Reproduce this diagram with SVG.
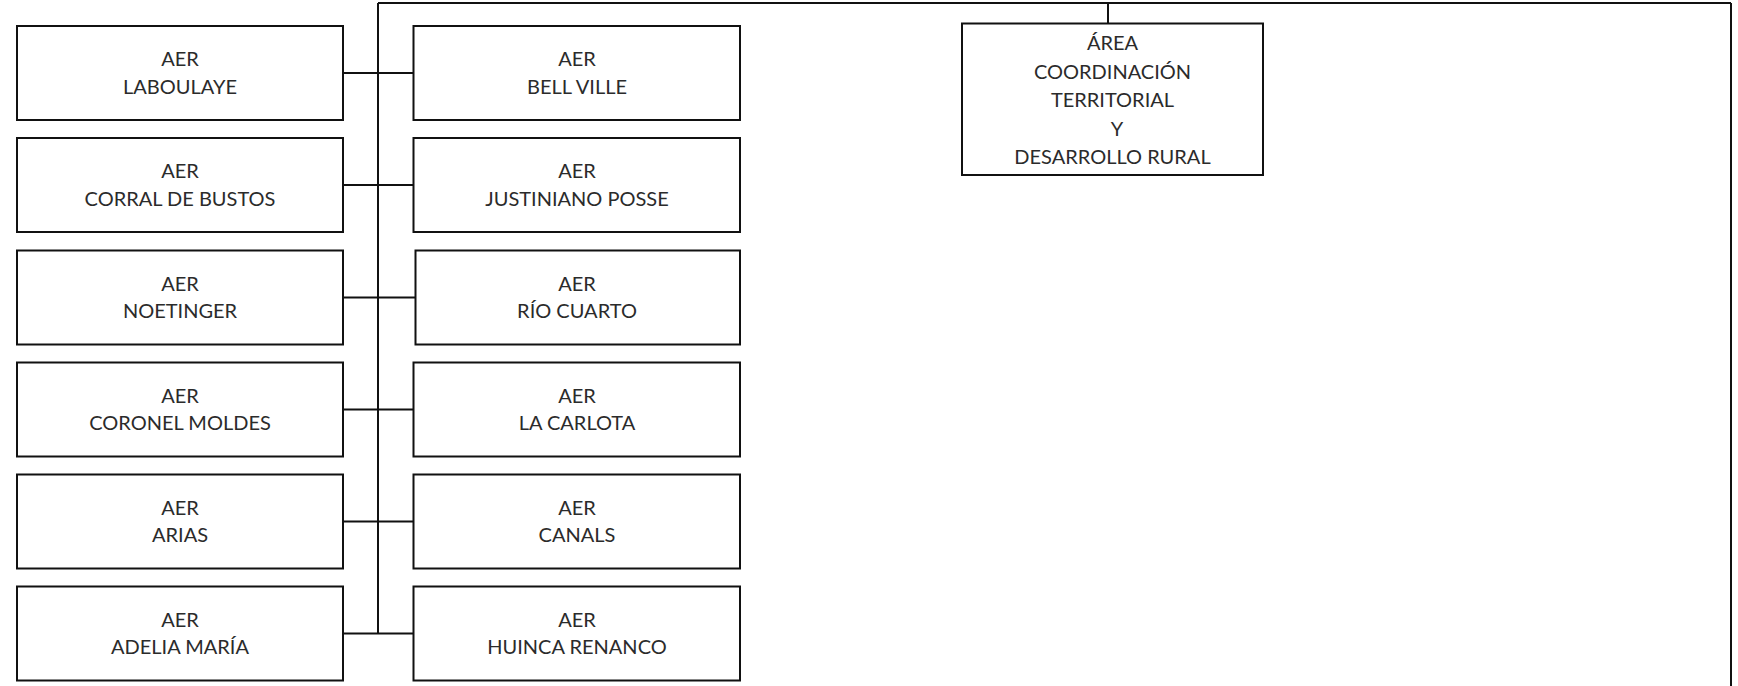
<svg xmlns="http://www.w3.org/2000/svg" width="1738" height="686" viewBox="0 0 1738 686">
<style>
.box{fill:#fff;stroke:#111;stroke-width:2}
.ln{fill:none;stroke:#111;stroke-width:2}
text{font-family:Lato,"Liberation Sans",sans-serif;font-size:20px;fill:#2b2b2b;text-anchor:middle}
</style>
<rect width="1738" height="686" fill="#fff"/>
<g id="connectors">
<path class="ln" d="M378 3 H1731 M1731 3 V686 M1108 3 V23 M378 3 V633.5"/>
<path class="ln" d="M343 73 H413.5 M343 185 H413.5 M343 297.5 H415.5 M343 409.5 H413.5 M343 521.5 H413.5 M343 633.5 H413.5"/>
</g>
<g id="area">
<rect class="box" x="962" y="23.5" width="301" height="151.5"/>
<text x="1112.5" y="50">ÁREA</text>
<text x="1112.5" y="78.5">COORDINACIÓN</text>
<text x="1112.5" y="107">TERRITORIAL</text>
<text x="1117" y="135.5">Y</text>
<text x="1112.5" y="164">DESARROLLO RURAL</text>
</g>
<g id="laboulaye"><rect class="box" x="17" y="26" width="326" height="94"/><text x="180" y="66">AER</text><text x="180" y="93.5">LABOULAYE</text></g>
<g id="bellville"><rect class="box" x="413.5" y="26" width="326.5" height="94"/><text x="577" y="66">AER</text><text x="577" y="93.5">BELL VILLE</text></g>
<g id="corral"><rect class="box" x="17" y="138" width="326" height="94"/><text x="180" y="178">AER</text><text x="180" y="205.5">CORRAL DE BUSTOS</text></g>
<g id="justiniano"><rect class="box" x="413.5" y="138" width="326.5" height="94"/><text x="577" y="178">AER</text><text x="577" y="205.5">JUSTINIANO POSSE</text></g>
<g id="noetinger"><rect class="box" x="17" y="250.5" width="326" height="94"/><text x="180" y="290.5">AER</text><text x="180" y="318">NOETINGER</text></g>
<g id="riocuarto"><rect class="box" x="415.5" y="250.5" width="324.5" height="94"/><text x="577" y="290.5">AER</text><text x="577" y="318">RÍO CUARTO</text></g>
<g id="coronel"><rect class="box" x="17" y="362.5" width="326" height="94"/><text x="180" y="402.5">AER</text><text x="180" y="430">CORONEL MOLDES</text></g>
<g id="lacarlota"><rect class="box" x="413.5" y="362.5" width="326.5" height="94"/><text x="577" y="402.5">AER</text><text x="577" y="430">LA CARLOTA</text></g>
<g id="arias"><rect class="box" x="17" y="474.5" width="326" height="94"/><text x="180" y="514.5">AER</text><text x="180" y="542">ARIAS</text></g>
<g id="canals"><rect class="box" x="413.5" y="474.5" width="326.5" height="94"/><text x="577" y="514.5">AER</text><text x="577" y="542">CANALS</text></g>
<g id="adelia"><rect class="box" x="17" y="586.5" width="326" height="94"/><text x="180" y="626.5">AER</text><text x="180" y="654">ADELIA MARÍA</text></g>
<g id="huinca"><rect class="box" x="413.5" y="586.5" width="326.5" height="94"/><text x="577" y="626.5">AER</text><text x="577" y="654">HUINCA RENANCO</text></g>
</svg>
